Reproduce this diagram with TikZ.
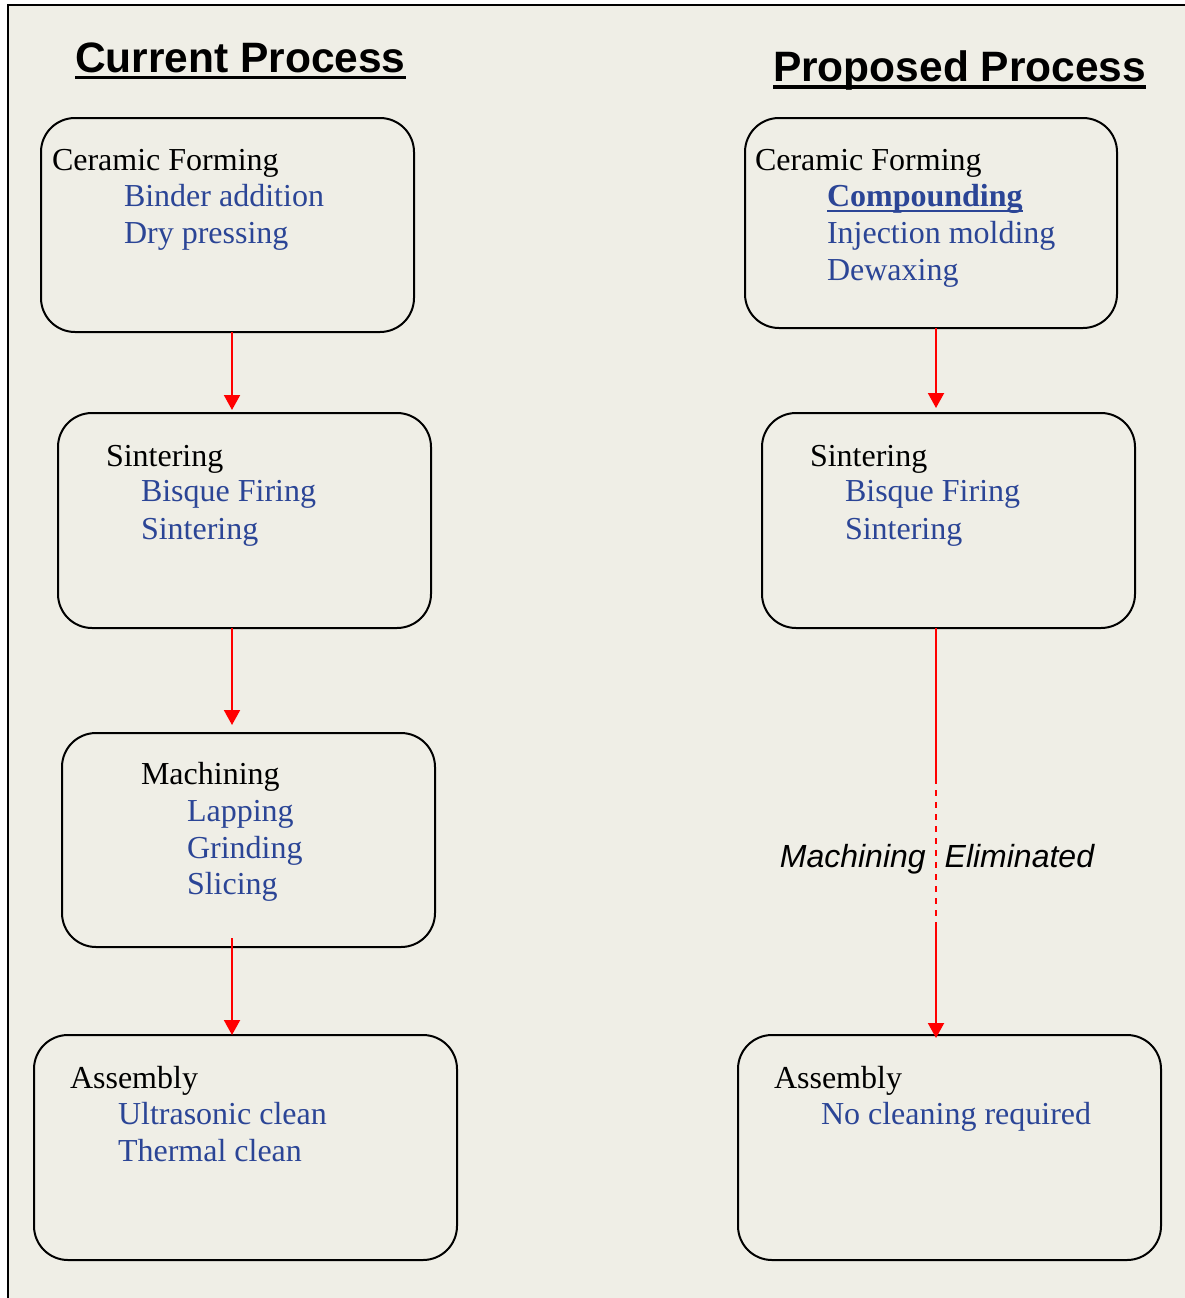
\documentclass[tikz,border=0pt]{standalone}
\usepackage{fontspec}
\setmainfont{Liberation Serif}
\newfontfamily\arialf{Liberation Sans}
\usetikzlibrary{arrows.meta}
\definecolor{bgc}{RGB}{239,238,230}
\definecolor{itemblue}{RGB}{43,69,150}
\definecolor{arrred}{RGB}{255,0,0}
\begin{document}
\begin{tikzpicture}[x=1pt,y=1pt,
  procbox/.style={draw=black, line width=2pt, rounded corners=34pt, anchor=north west, inner sep=0pt, outer sep=0pt},
  hd/.style={anchor=base west, inner sep=0pt, outer sep=0pt, font=\fontsize{32pt}{37pt}\selectfont},
  itm/.style={hd, text=itemblue},
  ttl/.style={anchor=base west, inner sep=0pt, outer sep=0pt, font=\arialf\bfseries\fontsize{42.5pt}{50pt}\selectfont},
  flow/.style={draw=arrred, line width=2pt},
  arr/.style={flow, -{Triangle[length=15pt,width=16pt]}}
]
\useasboundingbox (0,0) rectangle (1185,-1298);
\fill[bgc] (8,-5) rectangle (1185,-1298);
\draw[line width=2pt] (8,-1298) -- (8,-5) -- (1185,-5);

% titles
\node[ttl] (tc) at (75,-72.5) {Current Process};
\draw[line width=3.5pt] ([yshift=-5pt]tc.base west) -- ([yshift=-5pt]tc.base east);
\node[ttl] (tp) at (773,-81.5) {Proposed Process};
\draw[line width=3.5pt] ([yshift=-5.5pt]tp.base west) -- ([yshift=-5.5pt]tp.base east);

% boxes
\node[procbox, minimum width=373pt, minimum height=214pt] (b1) at (41,-118) {};
\node[procbox, minimum width=373pt, minimum height=215pt] (b2) at (58,-413) {};
\node[procbox, minimum width=373pt, minimum height=214pt] (b3) at (62,-733) {};
\node[procbox, minimum width=423pt, minimum height=225pt] (b4) at (34,-1035) {};
\node[procbox, minimum width=372pt, minimum height=210pt] (b5) at (745,-118) {};
\node[procbox, minimum width=373pt, minimum height=215pt] (b6) at (762,-413) {};
\node[procbox, minimum width=423pt, minimum height=225pt] (b7) at (738,-1035) {};

% box texts, current
\node[hd] (h1) at (52,-170) {Ceramic Forming};
\node[itm] (i1a) at (124,-206.5) {Binder addition};
\node[itm] (i1b) at (124,-243.5) {Dry pressing};

\node[hd] (h2) at (106,-466) {Sintering};
\node[itm] (i2a) at (141,-501.5) {Bisque Firing};
\node[itm] (i2b) at (141,-539.5) {Sintering};

\node[hd] (h3) at (141,-784) {Machining};
\node[itm] (i3a) at (187,-821.5) {Lapping};
\node[itm] (i3b) at (187,-858) {Grinding};
\node[itm] (i3c) at (187,-894.5) {Slicing};

\node[hd] (h4) at (70,-1088) {Assembly};
\node[itm] (i4a) at (118,-1124.5) {Ultrasonic clean};
\node[itm] (i4b) at (118,-1161.5) {Thermal clean};

% box texts, proposed
\node[hd] (h5) at (755,-170) {Ceramic Forming};
\node[itm, font=\bfseries\fontsize{32pt}{37pt}\selectfont] (i5a) at (827,-206.5) {Compounding};
\draw[itemblue, line width=2.5pt] ([yshift=-4.5pt]i5a.base west) -- ([yshift=-4.5pt]i5a.base east);
\node[itm] (i5b) at (827,-243.5) {Injection molding};
\node[itm] (i5c) at (827,-280.5) {Dewaxing};

\node[hd] (h6) at (810,-466) {Sintering};
\node[itm] (i6a) at (845,-501.5) {Bisque Firing};
\node[itm] (i6b) at (845,-539.5) {Sintering};

\node[hd] (h7) at (774,-1088) {Assembly};
\node[itm] (i7a) at (821,-1124.5) {No cleaning required};

% connectors, current
\draw[arr] ([xshift=4.5pt]b1.south) -- ([xshift=4.5pt,yshift=3pt]b1.south |- b2.north);
\draw[arr] ([xshift=-12.5pt]b2.south) -- ([xshift=-12.5pt,yshift=8pt]b2.south |- b3.north);
\draw[arr] ([xshift=-16.5pt,yshift=9pt]b3.south) -- ([xshift=-16.5pt,yshift=0pt]b3.south |- b4.north);

% connectors, proposed
\draw[arr] ([xshift=5pt]b5.south) -- ([xshift=5pt,yshift=5pt]b5.south |- b6.north);
\coordinate (m1) at ([xshift=-12.5pt,yshift=-150pt]b6.south);
\coordinate (m2) at ([xshift=-12.5pt,yshift=-299pt]b6.south);
\draw[flow] ([xshift=-12.5pt]b6.south) -- (m1);
\draw[flow, dash pattern=on 6pt off 6pt] (m1) -- (m2);
\draw[arr] (m2) -- ([xshift=-12.5pt,yshift=-3pt]b6.south |- b7.north);

\node[anchor=base, inner sep=0pt, font=\arialf\itshape\fontsize{32pt}{37pt}\selectfont] (elim) at (937,-867.5) {Machining\hspace{19pt}Eliminated};
\end{tikzpicture}
\end{document}
